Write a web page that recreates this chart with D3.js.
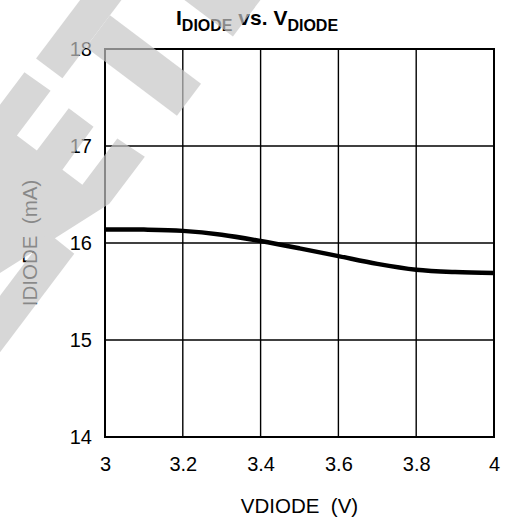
<!DOCTYPE html>
<html>
<head>
<meta charset="utf-8">
<script src="https://cdn.jsdelivr.net/npm/d3@7"></script>
<style>
  body { margin: 0; background: #fff; }
  svg { display: block; }
</style>
</head>
<body>
<svg id="chart" width="518" height="526"></svg>
<script>
// data
const vDiode = [3.0, 3.1, 3.2, 3.3, 3.4, 3.5, 3.6, 3.7, 3.8, 3.9, 4.0]
const iDiode = [16.14, 16.138, 16.125, 16.085, 16.02, 15.945, 15.865, 15.785, 15.725, 15.70, 15.69]
const xTicks = [3, 3.2, 3.4, 3.6, 3.8, 4]
const yTicks = [14, 15, 16, 17, 18]

const svg = d3.select("#chart")
const margin = {left: 105, top: 49, right: 24, bottom: 89}
const w = 518 - margin.left - margin.right
const h = 526 - margin.top - margin.bottom

const x = d3.scaleLinear().domain([3, 4]).range([0, w])
const y = d3.scaleLinear().domain([14, 18]).range([h, 0])

const g = svg.append("g").attr("transform", `translate(${margin.left},${margin.top})`)

// grid
g.selectAll(".vgrid").data(xTicks).join("line")
  .attr("class", "vgrid")
  .attr("x1", d => x(d)).attr("x2", d => x(d))
  .attr("y1", 0).attr("y2", h)
  .attr("stroke", "#000").attr("stroke-width", 1.4)
g.selectAll(".hgrid").data(yTicks).join("line")
  .attr("class", "hgrid")
  .attr("x1", 0).attr("x2", w)
  .attr("y1", d => y(d)).attr("y2", d => y(d))
  .attr("stroke", "#000").attr("stroke-width", 1.4)
g.append("rect").attr("width", w).attr("height", h)
  .attr("fill", "none").attr("stroke", "#000").attr("stroke-width", 2)

// axes (labels only)
const font = "'Liberation Sans', Arial, sans-serif"
const xAxis = g.append("g").attr("transform", `translate(0,${h})`)
  .call(d3.axisBottom(x).tickValues(xTicks).tickSize(0).tickPadding(20).tickFormat(d3.format("")))
const yAxis = g.append("g")
  .call(d3.axisLeft(y).tickValues(yTicks).tickSize(0).tickPadding(13).tickFormat(d3.format("d")))
g.selectAll(".domain").remove()
g.selectAll(".tick text").attr("font-family", font).attr("font-size", 20).attr("fill", "#000")

// curve
const line = d3.line().x((d, i) => x(vDiode[i])).y(d => y(d)).curve(d3.curveCatmullRom.alpha(0.5))
g.append("path").datum(iDiode).attr("d", line)
  .attr("fill", "none").attr("stroke", "#000").attr("stroke-width", 4.5)

// axis titles
svg.append("text").attr("x", margin.left + w / 2).attr("y", 513)
  .attr("text-anchor", "middle").attr("font-family", font).attr("font-size", 20.5)
  .attr("xml:space", "preserve").text("VDIODE  (V)")
svg.append("text").attr("transform", `translate(37,${margin.top + h / 2}) rotate(-90)`)
  .attr("text-anchor", "middle").attr("font-family", font).attr("font-size", 20.5)
  .attr("xml:space", "preserve").text("IDIODE  (mA)")

// title
const title = svg.append("text").attr("x", 176).attr("y", 25)
  .attr("font-family", font).attr("font-weight", "bold").attr("font-size", 21)
title.append("tspan").text("I")
title.append("tspan").attr("font-size", 16).attr("dy", 6).text("DIODE")
title.append("tspan").attr("dy", -6).text(" vs. V")
title.append("tspan").attr("font-size", 16).attr("dy", 6).text("DIODE")

// watermark, drawn in a frame rotated by 37deg
const wm = svg.append("g").attr("transform", "rotate(37)")
  .attr("fill", "rgb(198,198,198)").attr("opacity", 0.69)
const wmShapes = [
  [[64, -220], [97, -220], [97, 25], [64, 25]],
  [[97, -54], [211, -54], [211, -14], [97, -14]],
  [[64, -220], [208, -220], [208, -111], [64, -111]],
  [[63, 43], [95, 42], [95, 98], [120, 98], [120, 45], [151, 45], [152, 98], [177, 98],
   [177, 40], [210, 38], [210, 97], [164, 219], [164, 420], [63, 420]],
  [[178, 157], [212, 158], [212, 420], [178, 420]]
]
wm.selectAll("path").data(wmShapes).join("path")
  .attr("d", d => "M" + d.map(p => p.join(",")).join("L") + "Z")
</script>
</body>
</html>
